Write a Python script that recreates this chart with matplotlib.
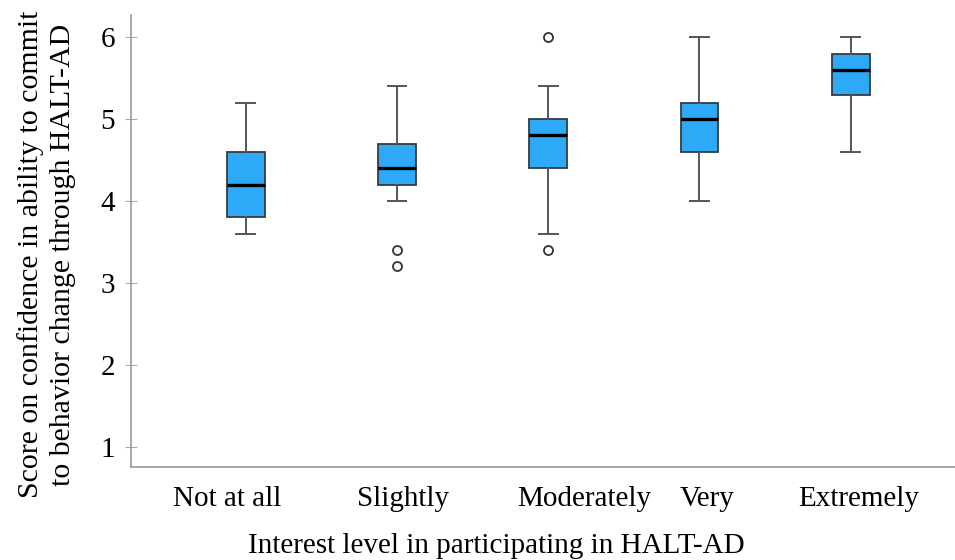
import matplotlib
matplotlib.use("Agg")
import matplotlib.pyplot as plt

categories = ["Not at all", "Slightly", "Moderately", "Very", "Extremely"]
whisker_low = [3.6, 4.0, 3.6, 4.0, 4.6]
q1 = [3.8, 4.2, 4.4, 4.6, 5.3]
medians = [4.2, 4.4, 4.8, 5.0, 5.6]
q3 = [4.6, 4.7, 5.0, 5.2, 5.8]
whisker_high = [5.2, 5.4, 5.4, 6.0, 6.0]
outliers = [[], [3.4, 3.2], [6.0, 3.4], [], []]

# the category labels sit a little off their boxes in the original
label_shift = [-0.12, 0.04, 0.24, 0.05, 0.05]

plt.rcParams["font.family"] = ["Liberation Serif", "DejaVu Serif"]

fig = plt.figure(figsize=(9.55, 5.6), dpi=100)
ax = fig.add_axes([0.137, 0.166, 0.863, 0.807])

stats = []
for i, name in enumerate(categories):
    stats.append({"label": name, "whislo": whisker_low[i], "q1": q1[i], "med": medians[i],
                  "q3": q3[i], "whishi": whisker_high[i], "fliers": outliers[i]})

positions = list(range(1, len(categories) + 1))
ax.bxp(stats, positions=positions, widths=0.25, patch_artist=True, showfliers=True,
       boxprops=dict(facecolor="#2EA9F8", edgecolor="#3a3a3a", linewidth=1.3),
       medianprops=dict(color="black", linewidth=2.4),
       whiskerprops=dict(color="#555555", linewidth=1.4),
       capprops=dict(color="#555555", linewidth=1.4),
       capwidths=0.125,
       flierprops=dict(marker="o", markerfacecolor="white", markeredgecolor="#333333",
                       markersize=6.5, markeredgewidth=1.3))

ax.set_xlim(0.24, 5.69)
ax.set_ylim(0.75, 6.27)
ax.set_yticks([1, 2, 3, 4, 5, 6])
ax.set_xticks([p + d for p, d in zip(positions, label_shift)])
ax.set_xticklabels(categories)

for s in ["top", "right"]:
    ax.spines[s].set_visible(False)
for s in ["left", "bottom"]:
    ax.spines[s].set_color("#9a9a9a")
    ax.spines[s].set_linewidth(1.2)

ax.tick_params(axis="y", direction="inout", length=9, color="#aaaaaa", labelsize=21, pad=7)
ax.tick_params(axis="x", length=0, labelsize=21, pad=14)

ax.set_xlabel("Interest level in participating in HALT-AD", fontsize=21)
ax.xaxis.set_label_coords(0.444, -0.146)
ax.set_ylabel("Score on confidence in ability to commit\nto behavior change through HALT-AD",
              fontsize=21.5, linespacing=1.32)
ax.yaxis.set_label_coords(-0.066, 0.47)

fig.savefig("out.png", dpi=100)
